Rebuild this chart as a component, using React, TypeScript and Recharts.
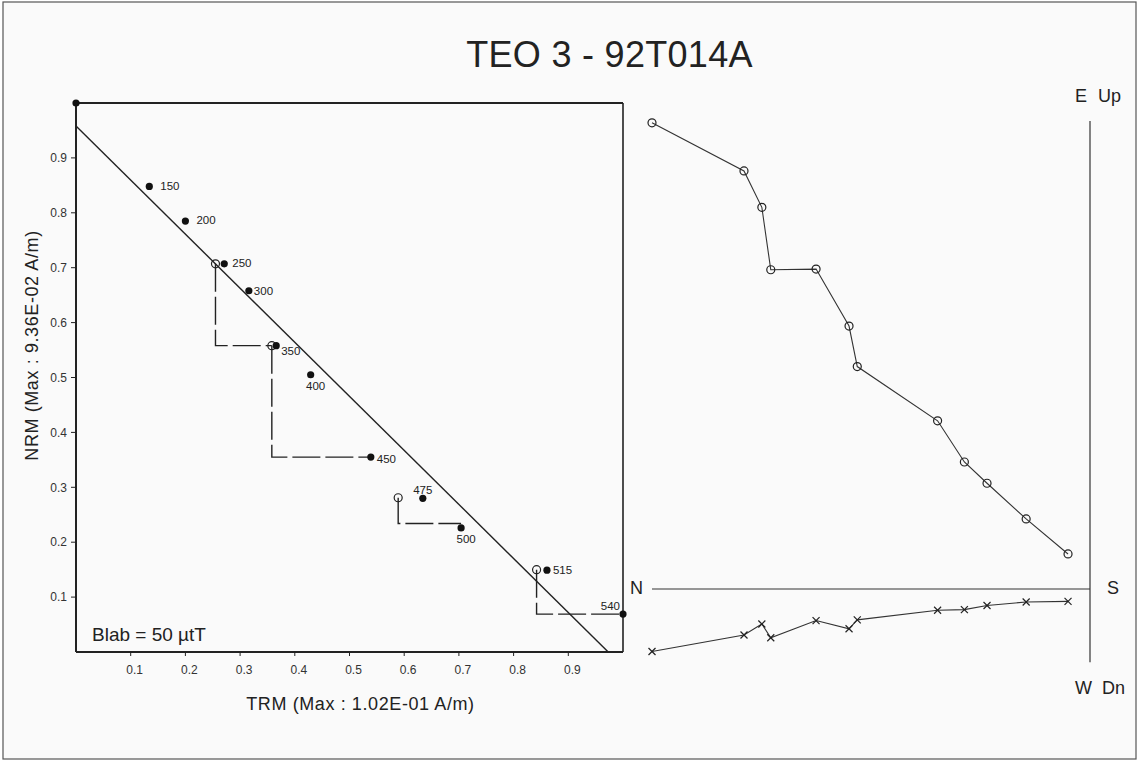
import React from "react";
import { ScatterChart, Scatter, XAxis, YAxis, ReferenceLine } from "recharts";

// Arai plot: demagnetisation steps (°C), normalised TRM gained / NRM left
const steps = ["NRM", "150", "200", "250", "300", "350", "400", "450", "475", "500", "515", "540"];
const trm = [0, 0.134, 0.2, 0.271, 0.316, 0.366, 0.429, 0.539, 0.634, 0.704, 0.861, 1.0];
const nrm = [1.0, 0.848, 0.785, 0.707, 0.658, 0.558, 0.505, 0.355, 0.28, 0.226, 0.149, 0.069];

// pTRM checks (open circles) and the stair lines drawn from them
const checkTrm = [0.255, 0.358, 0.589, 0.842];
const checkNrm = [0.707, 0.558, 0.281, 0.15];
const checkLevel = [0.558, 0.355, 0.234, 0.069];
const checkEnd = [0.358, 0.539, 0.704, 1.0];

// best-fit line intercepts
const fitYIntercept = 0.958;
const fitXIntercept = 0.973;

const axisTicks = [0.1, 0.2, 0.3, 0.4, 0.5, 0.6, 0.7, 0.8, 0.9];

// Zijderveld diagram (x 1E-02 A/m): N-S component, vertical (Up) and E-W (horizontal)
const zNS = [-6.38, -5.04, -4.78, -4.65, -3.99, -3.51, -3.39, -2.22, -1.83, -1.5, -0.93, -0.32];
const zUp = [6.79, 6.09, 5.56, 4.65, 4.66, 3.83, 3.24, 2.45, 1.85, 1.54, 1.02, 0.51];
const zEW = [-0.91, -0.67, -0.51, -0.71, -0.46, -0.58, -0.45, -0.31, -0.3, -0.24, -0.19, -0.18];

const FONT = '"Liberation Sans", Arial, Helvetica, sans-serif';
const INK = "#222";

const araiPoints = steps.map((s, i) => ({ x: trm[i], y: nrm[i], step: s }));
const checkPoints = checkTrm.map((x, i) => ({ x, y: checkNrm[i] }));
const checkPaths = checkTrm.map((x, i) => [
  { x, y: checkNrm[i] },
  { x, y: checkLevel[i] },
  { x: checkEnd[i], y: checkLevel[i] },
]);
const fitLine = [
  { x: 0, y: fitYIntercept },
  { x: fitXIntercept, y: 0 },
];
const vertProj = zNS.map((x, i) => ({ x, y: zUp[i] }));
const horizProj = zNS.map((x, i) => ({ x, y: zEW[i] }));

// where each step label sits relative to its dot
const labelPlace: Record<string, [number, number, "start" | "middle" | "end"]> = {
  "150": [11, 4, "start"],
  "200": [11, 3, "start"],
  "250": [8, 3, "start"],
  "300": [5, 4, "start"],
  "350": [5, 9, "start"],
  "400": [5, 15, "middle"],
  "450": [6, 6, "start"],
  "475": [0, -4, "middle"],
  "500": [5, 15, "middle"],
  "515": [6, 4, "start"],
  "540": [-3, -4, "end"],
};

const StepDot = (p: any) => {
  const place = labelPlace[p.payload?.step];
  return (
    <g>
      <circle cx={p.cx} cy={p.cy} r={3.6} fill="#111" />
      {place && (
        <text x={p.cx + place[0]} y={p.cy + place[1]} textAnchor={place[2]} fontSize={11.5} fill={INK}>
          {p.payload.step}
        </text>
      )}
    </g>
  );
};

const OpenDot = (p: any) => <circle cx={p.cx} cy={p.cy} r={4} fill="none" stroke={INK} strokeWidth={1.2} />;
const Cross = (p: any) => (
  <g stroke={INK} strokeWidth={1.2}>
    <line x1={p.cx - 3.5} y1={p.cy - 3.5} x2={p.cx + 3.5} y2={p.cy + 3.5} />
    <line x1={p.cx - 3.5} y1={p.cy + 3.5} x2={p.cx + 3.5} y2={p.cy - 3.5} />
  </g>
);
const NoDot = () => <g />;

const AraiPlot = () => (
  <ScatterChart width={660} height={740} margin={{ top: 103, right: 37, bottom: 58, left: 36 }}>
    <XAxis
      type="number"
      dataKey="x"
      domain={[0, 1]}
      ticks={axisTicks}
      interval={0}
      height={30}
      tickSize={4}
      tickMargin={9}
      axisLine={{ stroke: INK, strokeWidth: 2 }}
      tickLine={{ stroke: INK }}
      tick={{ fill: "#333", fontSize: 12, dx: 4 }}
      label={(props: any) => {
        const vb = props.viewBox;
        return (
          <text x={vb.x + vb.width / 2 + 11} y={vb.y + 58} textAnchor="middle" fontSize={18} letterSpacing={0.6} fill={INK}>
            TRM (Max : 1.02E-01 A/m)
          </text>
        );
      }}
    />
    <YAxis
      type="number"
      dataKey="y"
      domain={[0, 1]}
      ticks={axisTicks}
      interval={0}
      width={40}
      tickSize={5}
      tickMargin={4}
      axisLine={{ stroke: INK, strokeWidth: 2 }}
      tickLine={{ stroke: INK }}
      tick={{ fill: "#333", fontSize: 12 }}
      label={(props: any) => {
        const vb = props.viewBox;
        const cx = vb.x + 2;
        const cy = vb.y + vb.height / 2 - 32;
        return (
          <text x={cx} y={cy} textAnchor="middle" fontSize={18} letterSpacing={0.6} fill={INK} transform={`rotate(-90, ${cx}, ${cy})`}>
            NRM (Max : 9.36E-02 A/m)
          </text>
        );
      }}
    />
    <ReferenceLine y={1} stroke={INK} strokeWidth={2} />
    <ReferenceLine x={1} stroke={INK} strokeWidth={1.6} />
    <ReferenceLine
      y={0}
      stroke="none"
      label={(props: any) => {
        const vb = props.viewBox;
        return (
          <text x={vb.x + 16} y={vb.y - 11} fontSize={19} fill={INK}>
            Blab = 50 µtT
          </text>
        );
      }}
    />
    <Scatter data={fitLine} line={{ stroke: INK, strokeWidth: 1.4 }} shape={NoDot} isAnimationActive={false} />
    {checkPaths.map((path, i) => (
      <Scatter
        key={i}
        data={path}
        line={{ stroke: INK, strokeWidth: 1.4, strokeDasharray: "28 5" }}
        shape={NoDot}
        isAnimationActive={false}
      />
    ))}
    <Scatter data={checkPoints} shape={OpenDot} isAnimationActive={false} />
    <Scatter data={araiPoints} shape={StepDot} isAnimationActive={false} />
  </ScatterChart>
);

const ZijderveldPlot = () => (
  <ScatterChart width={508} height={740} margin={{ top: 121, right: 48, bottom: 77.7, left: 22 }}>
    <XAxis type="number" dataKey="x" domain={[-6.38, 0]} hide height={0} />
    <YAxis type="number" dataKey="y" domain={[-1.068, 6.817]} hide width={0} />
    <ReferenceLine
      y={0}
      stroke="#333"
      strokeWidth={1.2}
      label={(props: any) => {
        const vb = props.viewBox;
        return (
          <g fontSize={18} fill={INK}>
            <text x={vb.x - 9} y={vb.y + 5} textAnchor="end">N</text>
            <text x={vb.x + vb.width + 17} y={vb.y + 5}>S</text>
          </g>
        );
      }}
    />
    <ReferenceLine
      x={0}
      stroke="#333"
      strokeWidth={1.2}
      label={(props: any) => {
        const vb = props.viewBox;
        return (
          <g fontSize={18} fill={INK}>
            <text x={vb.x - 15} y={vb.y - 19}>
              E<tspan dx={11}>Up</tspan>
            </text>
            <text x={vb.x - 15} y={vb.y + vb.height + 32}>
              W<tspan dx={10}>Dn</tspan>
            </text>
          </g>
        );
      }}
    />
    <Scatter data={vertProj} line={{ stroke: "#333", strokeWidth: 1.1 }} shape={OpenDot} isAnimationActive={false} />
    <Scatter data={horizProj} line={{ stroke: "#333", strokeWidth: 1.1 }} shape={Cross} isAnimationActive={false} />
  </ScatterChart>
);

export default function App() {
  return (
    <div style={{ position: "absolute", left: 0, top: 0, width: 1138, height: 761, background: "#fff", fontFamily: FONT }}>
      <svg width={1138} height={761} style={{ position: "absolute", left: 0, top: 0 }}>
        <rect x={3} y={2} width={1133} height={757} fill="#fafafa" stroke="#555" strokeWidth={1.2} />
        <text x={609.5} y={67} textAnchor="middle" fontSize={36} letterSpacing={0.3} fill={INK}>
          TEO 3 - 92T014A
        </text>
      </svg>
      <div style={{ position: "absolute", left: 0, top: 0 }}>
        <AraiPlot />
      </div>
      <div style={{ position: "absolute", left: 630, top: 0 }}>
        <ZijderveldPlot />
      </div>
    </div>
  );
}
